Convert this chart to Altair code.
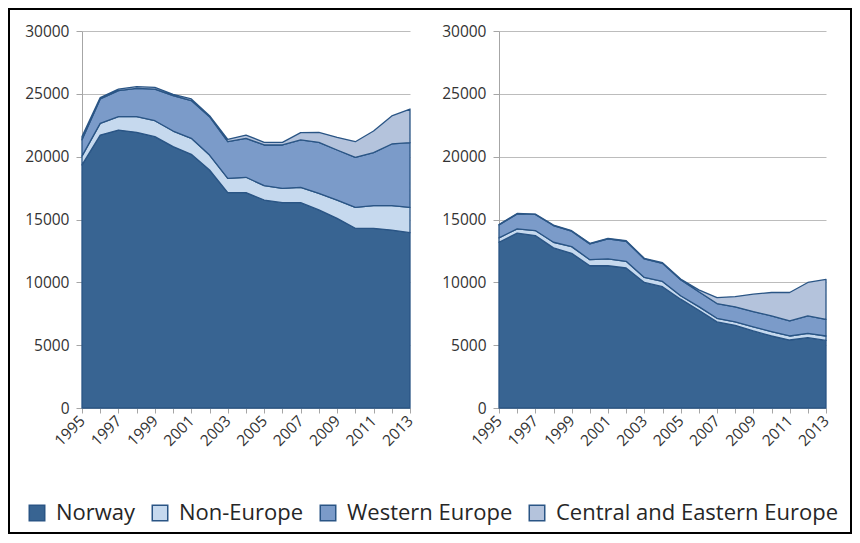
import altair as alt
import pandas as pd

years = list(range(1995, 2014))
series = ["Norway", "Non-Europe", "Western Europe", "Central and Eastern Europe"]
colors = ["#386492", "#c6d9ee", "#7b9bc9", "#b4c3dc"]
y_ticks = [0, 5000, 10000, 15000, 20000, 25000, 30000]

left_norway = [19340, 21720, 22120, 21940, 21590, 20800, 20190, 18940, 17140, 17140,
               16550, 16340, 16340, 15760, 15090, 14300, 14300, 14160, 13950]
left_noneur = [700, 930, 1060, 1240, 1270, 1240, 1270, 1190, 1140, 1220,
               1140, 1140, 1220, 1320, 1460, 1670, 1800, 1940, 2020]
left_west = [1300, 1940, 2070, 2260, 2520, 2810, 3000, 3050, 2910, 3100,
             3240, 3450, 3770, 4060, 3980, 3980, 4220, 4910, 5140]
left_cee = [260, 110, 130, 130, 140, 110, 130, 80, 190, 260,
            210, 210, 580, 800, 1010, 1240, 1720, 2230, 2680]

right_norway = [13190, 13910, 13720, 12740, 12310, 11320, 11320, 11140, 9990, 9650,
                8660, 7780, 6850, 6580, 6130, 5730, 5410, 5600, 5380]
right_noneur = [350, 350, 400, 450, 530, 480, 540, 530, 400, 420,
                270, 290, 290, 270, 320, 350, 320, 340, 350]
right_west = [1030, 1190, 1280, 1330, 1230, 1260, 1600, 1600, 1470, 1440,
              1280, 1180, 1170, 1200, 1220, 1250, 1200, 1390, 1330]
right_cee = [30, 30, 30, 40, 40, 40, 40, 40, 50, 50,
             50, 150, 480, 820, 1390, 1860, 2260, 2660, 3170]

FONT = "Open Sans"
STROKE = "#2a5585"


def make_df(lists):
    rows = []
    for k, (name, vals) in enumerate(zip(series, lists)):
        for yr, v in zip(years, vals):
            rows.append({"year": yr, "value": v, "series": name, "ord": k})
    return pd.DataFrame(rows)


def panel(df, w, h, border=False):
    area = alt.Chart(df).mark_area(
        stroke=STROKE, strokeWidth=1.3, strokeJoin="round"
    ).encode(
        x=alt.X("year:Q", title=None,
                scale=alt.Scale(domain=[1995, 2013], nice=False, zero=False),
                axis=alt.Axis(values=years, format="d",
                              labelExpr="datum.value % 2 == 1 ? datum.label : ''",
                              labelAngle=-45, labelAlign="right", labelBaseline="middle",
                              labelPadding=5, tickSize=5, grid=False,
                              domainColor="#a6a6a6", tickColor="#a6a6a6",
                              labelFont=FONT, labelFontSize=15.5, labelColor="#333333")),
        y=alt.Y("value:Q", stack="zero", title=None,
                scale=alt.Scale(domain=[0, 30000], nice=False),
                axis=alt.Axis(values=y_ticks, format="d", tickSize=6, labelPadding=7,
                              grid=True, gridColor="#bcbcbc", gridWidth=1,
                              domainColor="#a6a6a6", tickColor="#a6a6a6",
                              labelFont=FONT, labelFontSize=15.5, labelColor="#333333")),
        color=alt.Color("series:N", sort=series,
                        scale=alt.Scale(domain=series, range=colors),
                        legend=alt.Legend(title=None, orient="none", legendX=-56, legendY=471,
                                          direction="horizontal", columns=4,
                                          symbolType="square", symbolSize=240,
                                          symbolStrokeColor=STROKE, symbolStrokeWidth=1.5,
                                          labelFont=FONT, labelFontSize=22, labelLimit=0,
                                          labelColor="#262626", labelOffset=8,
                                          columnPadding=13)),
        order=alt.Order("ord:Q"),
    ).properties(width=w, height=h)
    if not border:
        return area
    frame = alt.Chart(alt.Data(values=[{"a": 1}])).mark_rect(
        fillOpacity=0, stroke="black", strokeWidth=2
    ).encode(x=alt.value(-73), x2=alt.value(769), y=alt.value(-22), y2=alt.value(502))
    return alt.layer(area, frame)


left = panel(make_df([left_norway, left_noneur, left_west, left_cee]), 328, 377, border=True)
right = panel(make_df([right_norway, right_noneur, right_west, right_cee]), 327, 377)

chart = alt.hconcat(left, right, spacing=89, bounds="flush").properties(
    padding=0
).resolve_scale(color="shared").configure_view(stroke=None)

chart.save("out.html", embed_options={"renderer": "svg", "actions": False})
